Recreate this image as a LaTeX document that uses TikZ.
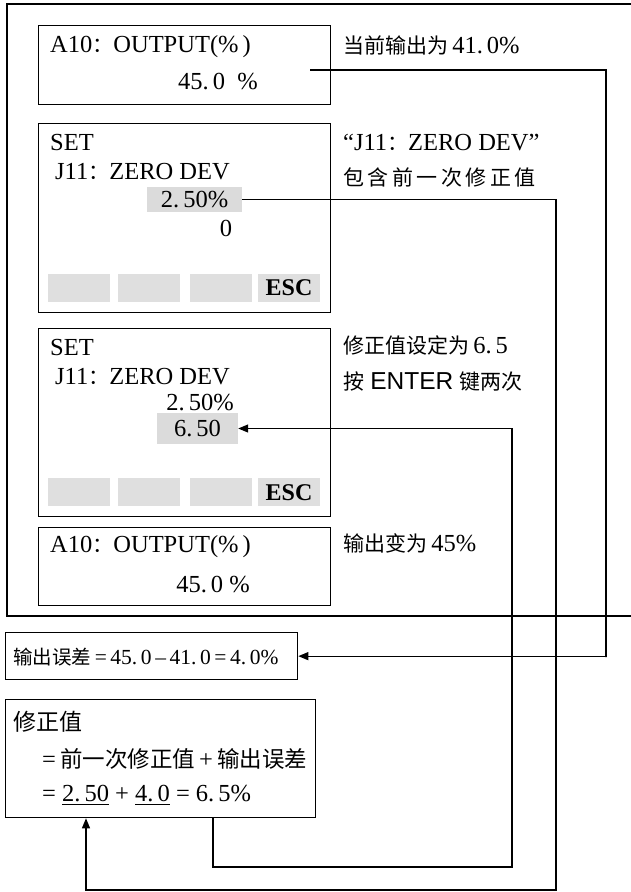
\documentclass[tikz,border=0pt]{standalone}
\usepackage{fontspec}
\setmainfont{Liberation Serif}
\newfontfamily\cjk{Noto Sans CJK SC}
\newfontfamily\enter{Liberation Sans}
\usetikzlibrary{arrows.meta,calc}
\newcommand{\zh}[2][21]{{\cjk\fontsize{#1}{#1}\selectfont #2}}

\tikzset{
  screen/.style={draw, line width=1.3pt, anchor=north west, inner sep=0pt},
  txt/.style={anchor=west, inner sep=0pt, font=\fontsize{24.5}{28}\selectfont},
  hilite/.style={fill=gray!28, inner sep=0pt, font=\fontsize{24.5}{28}\selectfont},
  softkey/.style={fill=gray!25, anchor=north west, minimum width=62pt, minimum height=28pt, inner sep=0pt},
  arr/.style={-{Triangle[length=10pt,width=8pt]}},
  wire/.style={line width=1.2pt}
}

\begin{document}
\begin{tikzpicture}[x=1pt,y=-1pt]
\useasboundingbox (0,0) rectangle (631,892);
% outer frame
\draw[wire] (7,4) rectangle (660,616);

% screen: output
\node[screen, minimum width=292pt, minimum height=79pt] (scrA) at (38,25) {};
\node[txt] (a1) at (50,47) {A10\zh{：}OUTPUT(\%\,)};
\node[txt, anchor=center] (a2) at (218,82) {45.\,0\ \ \%};
\node[txt] (noteA) at (343,45) {\zh{当前输出为}\,41.\,0\%};

% screen: set, old value
\node[screen, minimum width=292pt, minimum height=189pt] (scrB) at (38,123) {};
\node[txt] (b1) at (50,143) {SET};
\node[txt] (b2) at (55,172) {J11\zh{：}ZERO DEV};
\node[hilite, minimum width=95pt, minimum height=25pt] (b3) at (194.5,199.5) {2.\,50\%};
\node[txt, anchor=center] (b4) at (226,228) {0};
\foreach \kx [count=\i] in {48,118,190,258}
  \node[softkey] (keyB\i) at (\kx,274) {};
\node[txt, anchor=center, font=\bfseries\fontsize{24}{28}\selectfont] (escB) at (289,288) {ESC};
\node[txt] (noteB1) at (343,143) {“J11\zh{：}ZERO DEV”};
\node[txt] (noteB2) at (343,178) {\zh{包\,含\,前\,一\,次\,修\,正\,值}};

% screen: set, new value
\node[screen, minimum width=292pt, minimum height=188pt] (scrC) at (38,328) {};
\node[txt] (c1) at (50,348) {SET};
\node[txt] (c2) at (55,377) {J11\zh{：}ZERO DEV};
\node[txt, anchor=east] (c3) at (234,403) {2.\,50\%};
\node[hilite, minimum width=81pt, minimum height=31pt] (c4) at (197.5,428.5) {6.\,50};
\foreach \kx [count=\i] in {48,118,190,258}
  \node[softkey] (keyC\i) at (\kx,478) {};
\node[txt, anchor=center, font=\bfseries\fontsize{24}{28}\selectfont] (escC) at (289,493) {ESC};
\node[txt] (noteC1) at (343,345) {\zh{修正值设定为}\,6.\,5};
\node[txt] (noteC2) at (343,382) {\zh{按} {\enter ENTER} \zh{键两次}};

% screen: output after
\node[screen, minimum width=292pt, minimum height=78pt] (scrD) at (38,527) {};
\node[txt] (d1) at (50,547) {A10\zh{：}OUTPUT(\%\,)};
\node[txt, anchor=center] (d2) at (213,585) {45.\,0 \%};
\node[txt] (noteD) at (343,543) {\zh{输出变为}\,45\%};

% calculation boxes
\node[screen, minimum width=292pt, minimum height=47pt] (errbox) at (5,632) {};
\node[txt, font=\fontsize{21.5}{26}\selectfont] (errtxt) at (13,657) {\zh[19.5]{输出误差}\,=\,45.\,0\,–\,41.\,0\,=\,4.\,0\%};
\node[screen, minimum width=310pt, minimum height=118pt] (corbox) at (5,699) {};
\node[txt] (cor1) at (13,722) {\zh[23]{修正值}};
\node[txt] (cor2) at (42,759) {=\,\zh[22.5]{前一次修正值}\,+\,\zh[22.5]{输出误差}};
\node[txt] (cor3) at (42,795) {= \underline{2.\,50} + \underline{4.\,0} = 6.\,5\%};

% connectors
\coordinate (outA) at (310,70);
\coordinate (railA) at (606,657);
\draw[wire,arr] (outA) -| (railA) |- (errbox.east);
\coordinate (railB) at (556,890);
\draw[wire,arr] (b3.east) -| (railB) -| ($(corbox.south west)+(81,0)$);
\coordinate (railC) at (512,867);
\draw[wire,arr] ($(corbox.south west)+(208,0)$) |- (railC) |- (c4.east);
\end{tikzpicture}
\end{document}
